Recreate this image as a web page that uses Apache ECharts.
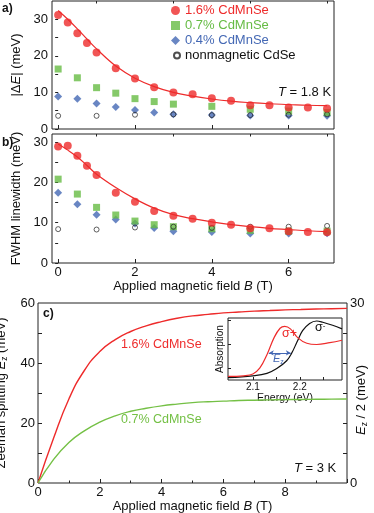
<!DOCTYPE html>
<html lang="en">
<head>
<meta charset="UTF-8">
<title>CdMnSe splitting</title>
<script src="https://cdn.jsdelivr.net/npm/echarts@6/dist/echarts.min.js"></script>
<style>
  html,body{margin:0;padding:0;background:#fff;}
  #box{width:374px;height:513px;}
</style>
</head>
<body>
<div id="box"></div>
<script>
  // field values (T)
  let fieldDense=[0,0.25,0.5,0.75,1,1.5,2,2.5,3,3.5,4,4.5,5,5.5,6,6.5,7];
  let fieldMid=[0,0.5,1,1.5,2,2.5,3,4,5,6,7];
  let fieldNon=[0,1,2,3,4,5,6,7];

  // a) |dE| (meV)
  let dERed=[31.2,29.1,26.2,23.5,20.9,16.6,13.8,11.4,10.0,9.5,8.4,7.7,6.5,6.5,5.9,5.9,5.6];
  let dEFit=[32.4,30.0,27.4,24.6,21.9,17.2,13.9,11.6,10.0,9.0,8.2,7.6,7.2,6.9,6.7,6.5,6.4];
  let dEGreen=[16.4,14.0,11.3,9.8,8.3,7.5,6.8,6.2,5.4,4.9,4.5];
  let dEBlue=[8.9,8.3,7.0,6.0,5.2,4.5,4.0,3.8,3.7,3.7,3.6];
  let dENon=[3.6,3.6,3.9,4.0,3.8,3.8,3.9,4.0];

  // b) FWHM linewidth (meV)
  let fwRed=[28.9,29.1,26.6,24.1,21.8,17.4,15.2,12.9,11.7,11.0,10.0,9.5,8.6,8.6,7.9,7.7,7.6];
  let fwFit=[29.5,28.0,26.3,24.2,22.0,18.7,15.9,13.6,12.0,11.0,10.2,9.5,9.0,8.6,8.3,8.0,7.8];
  let fwGreen=[20.8,17.1,13.8,11.9,10.4,9.5,9.0,8.5,8.1,7.9,7.9];
  let fwBlue=[17.4,14.6,12.0,10.8,9.8,8.7,7.9,7.7,7.3,7.3,7.4];
  let fwNon=[8.4,8.3,8.8,9.0,8.7,9.0,9.0,9.2];

  // c) Zeeman splitting (meV)
  let fieldZ=[0,0.5,1,1.5,2,2.5,3,3.5,4,4.5,5,5.5,6,6.5,7,7.5,8,8.5,9,9.5,10];
  let ez16=[0,14.8,28,37.5,43.8,47.8,50.5,52.4,53.8,54.9,55.7,56.2,56.7,57,57.3,57.5,57.7,57.85,58,58.1,58.2];
  let ez07=[0,7.8,13.5,17.4,20.3,22.4,23.9,24.9,25.7,26.3,26.8,27.1,27.3,27.5,27.6,27.7,27.8,27.85,27.9,27.95,28];

  // inset absorption spectra
  let energyPlus=[2.047,2.08,2.1,2.115,2.13,2.145,2.158,2.168,2.18,2.196,2.215,2.236,2.264,2.29];
  let absPlus=[0.06,0.07,0.10,0.20,0.42,0.70,0.86,0.89,0.85,0.70,0.61,0.59,0.62,0.66];
  let energyMinus=[2.047,2.1,2.13,2.151,2.172,2.183,2.194,2.206,2.221,2.236,2.249,2.27,2.29];
  let absMinus=[0.04,0.07,0.11,0.19,0.32,0.45,0.63,0.82,0.94,0.98,0.96,0.91,0.85];

  // tick labels
  let fieldLabels=[0,2,4,6];
  let fieldMinor=[1,3,5,7];
  let fieldC=[0,2,4,6,8];

  const RED='#ee2b2b', GREEN='#66bb44', BLUE='#4468b4', LGREEN='#74c045', INK='#111';
  const FONT='"Liberation Sans", Arial, Helvetica, sans-serif';
  const pairs=(xs,ys)=>xs.map((x,i)=>[x,ys[i]]);
  const txt=(size)=>({fontSize:size,fontFamily:FONT,color:INK});

  function fieldAxis(grid,ticks,len,labels,name){
    return {
      type:'value',gridIndex:grid,min:-0.16,max:7.18,
      axisLine:{show:false},splitLine:{show:false},
      axisTick:{inside:true,length:len,customValues:ticks,lineStyle:{color:'#222'}},
      axisLabel:{show:!!labels,customValues:labels||[],margin:3,...txt(13)},
      name:name||'',nameLocation:'middle',nameGap:14,nameTextStyle:{...txt(13),rich:{i:{fontStyle:'italic',...txt(13)}}}
    };
  }
  function leftAxis(grid,max,name){
    return {
      type:'value',gridIndex:grid,min:0,max:max,
      axisLine:{show:false},splitLine:{show:false},
      axisTick:{inside:false,length:3,customValues:[0,5,10,15,20,25,30],lineStyle:{color:'#222'}},
      axisLabel:{customValues:[0,10,20,30],margin:4,...txt(13)},
      name:name,nameLocation:'middle',nameRotate:90,nameGap:22,
      nameTextStyle:{...txt(13),rich:{i:{fontStyle:'italic',...txt(13)}}}
    };
  }
  function scatter(name,x,y,xi,symbol,size,style){
    return {name:name,type:'scatter',xAxisIndex:xi,yAxisIndex:xi/2,data:pairs(x,y),
      symbol:symbol,symbolSize:size,itemStyle:style,silent:true};
  }
  function fit(x,y,ai){
    return {type:'line',xAxisIndex:ai*2,yAxisIndex:ai,data:pairs(x,y),smooth:0.4,showSymbol:false,
      lineStyle:{color:RED,width:1.2},silent:true};
  }
  const redSt={color:RED}, greenSt={color:GREEN}, blueSt={color:BLUE},
        openSt={color:'rgba(255,255,255,0)',borderColor:'#222',borderWidth:0.9};

  let charts=echarts.init(document.getElementById('box'),null,{renderer:'canvas'});
  let options={
    animation:false,
    grid:[
      {left:52,top:1,width:282,height:128,show:true,borderColor:'#222',borderWidth:1,containLabel:false,outerBoundsMode:'none'},
      {left:52,top:134,width:282,height:129,show:true,borderColor:'#222',borderWidth:1,containLabel:false,outerBoundsMode:'none'},
      {left:38,top:303,width:309,height:180,show:true,borderColor:'#222',borderWidth:1,containLabel:false,outerBoundsMode:'none'},
      {left:228,top:318,width:114,height:62,show:true,borderColor:'#222',borderWidth:1,backgroundColor:'#fff',containLabel:false,outerBoundsMode:'none'}
    ],
    xAxis:[
      fieldAxis(0,fieldLabels,4,null),
      fieldAxis(0,fieldMinor,2.5,null),
      fieldAxis(1,fieldLabels,4,fieldLabels,'Applied magnetic field {i|B} (T)'),
      fieldAxis(1,fieldMinor,2.5,null),
      {type:'value',gridIndex:2,min:0,max:10,interval:2,
        axisLine:{show:false},splitLine:{show:false},
        axisTick:{inside:true,length:4,lineStyle:{color:'#222'}},
        minorTick:{show:true,splitNumber:2,length:2.5,lineStyle:{color:'#222'}},
        axisLabel:{customValues:fieldC,margin:3,...txt(13)},
        name:'Applied magnetic field {i|B} (T)',nameLocation:'middle',nameGap:15,
        nameTextStyle:{...txt(13),rich:{i:{fontStyle:'italic',...txt(13)}}}},
      {type:'value',gridIndex:3,min:2.047,max:2.29,
        axisLine:{show:false},splitLine:{show:false},
        axisTick:{inside:true,length:3,customValues:[2.1,2.15,2.2,2.25],lineStyle:{color:'#222'}},
        axisLabel:{customValues:[2.1,2.2],margin:2,...txt(10)},
        name:'Energy (eV)',nameLocation:'middle',nameGap:9,nameTextStyle:txt(10.5)}
    ],
    yAxis:[
      leftAxis(0,35,'|Δ{i|E}| (meV)'),
      leftAxis(1,32,'FWHM linewidth (meV)'),
      {type:'value',gridIndex:2,min:0,max:60,
        axisLine:{show:false},splitLine:{show:false},
        axisTick:{inside:true,length:4,customValues:[10,20,30,40,50],lineStyle:{color:'#222'}},
        axisLabel:{customValues:[0,20,40,60],margin:3,...txt(13)},
        name:'Zeeman splitting {i|E}{s|z} (meV)',nameLocation:'middle',nameRotate:90,nameGap:21,
        nameTextStyle:{...txt(13),lineHeight:16,rich:{i:{fontStyle:'italic',...txt(13),lineHeight:16},s:{...txt(8.5),lineHeight:8,verticalAlign:'bottom'}}}},
      {type:'value',gridIndex:2,min:0,max:30,position:'right',
        axisLine:{show:false},splitLine:{show:false},
        axisTick:{inside:true,length:4,customValues:[5,10,15,20,25],lineStyle:{color:'#222'}},
        axisLabel:{customValues:[0,30],margin:3,...txt(13)}},
      {type:'value',gridIndex:3,min:0,max:1.03,
        axisLine:{show:false},splitLine:{show:false},
        axisTick:{inside:true,length:3,customValues:[0.2,0.6,1.0],lineStyle:{color:'#222'}},
        axisLabel:{show:false},
        name:'Absorption',nameLocation:'middle',nameRotate:90,nameGap:3,nameTextStyle:txt(10)}
    ],
    legend:[
      {left:171,top:4,padding:0,orient:'vertical',itemWidth:9,itemHeight:9,itemGap:2,itemTextGap:3,selectedMode:false,
        textStyle:{fontSize:13,fontFamily:FONT},
        data:[{name:'1.6% CdMnSe',textStyle:{color:RED}},{name:'0.7% CdMnSe',textStyle:{color:GREEN}},{name:'0.4% CdMnSe',textStyle:{color:BLUE}}]},
      {left:173,top:49,padding:0,orient:'vertical',itemWidth:6,itemHeight:6,itemTextGap:6,selectedMode:false,
        textStyle:{fontSize:13,fontFamily:FONT,color:INK},
        data:[{name:'nonmagnetic CdSe'}]}
    ],
    series:[
      fit(fieldDense,dEFit,0),
      scatter('0.4% CdMnSe',fieldMid,dEBlue,0,'diamond',8,blueSt),
      scatter('0.7% CdMnSe',fieldMid,dEGreen,0,'rect',7,greenSt),
      scatter('nonmagnetic CdSe',fieldNon,dENon,0,'circle',5,openSt),
      scatter('1.6% CdMnSe',fieldDense,dERed,0,'circle',8,redSt),

      fit(fieldDense,fwFit,1),
      scatter('0.4% CdMnSe',fieldMid,fwBlue,2,'diamond',8,blueSt),
      scatter('0.7% CdMnSe',fieldMid,fwGreen,2,'rect',7,greenSt),
      scatter('nonmagnetic CdSe',fieldNon,fwNon,2,'circle',5,openSt),
      scatter('1.6% CdMnSe',fieldDense,fwRed,2,'circle',8,redSt),

      {type:'line',xAxisIndex:4,yAxisIndex:2,data:pairs(fieldZ,ez16),smooth:true,showSymbol:false,
        lineStyle:{color:RED,width:1.4},silent:true},
      {type:'line',xAxisIndex:4,yAxisIndex:2,data:pairs(fieldZ,ez07),smooth:true,showSymbol:false,
        lineStyle:{color:LGREEN,width:1.4},silent:true},

      {type:'line',xAxisIndex:5,yAxisIndex:4,data:pairs(energyMinus,absMinus),smooth:0.4,showSymbol:false,
        lineStyle:{color:'#111',width:1.2},silent:true},
      {type:'line',xAxisIndex:5,yAxisIndex:4,data:pairs(energyPlus,absPlus),smooth:0.4,showSymbol:false,
        lineStyle:{color:RED,width:1.2},silent:true,
        markLine:{silent:true,symbol:['arrow','arrow'],symbolSize:[4,5],label:{show:false},
          lineStyle:{color:BLUE,width:1,type:'solid'},
          data:[[{coord:[2.134,0.45]},{coord:[2.181,0.45]}]]}}
    ],
    graphic:[
      {type:'text',x:2,y:3,style:{text:'a)',fontSize:12,fontWeight:'bold',fontFamily:FONT,fill:INK}},
      {type:'text',x:2,y:137,style:{text:'b)',fontSize:12,fontWeight:'bold',fontFamily:FONT,fill:INK}},
      {type:'text',x:43,y:308,style:{text:'c)',fontSize:12,fontWeight:'bold',fontFamily:FONT,fill:INK}},
      {type:'text',x:278,y:92,style:{text:'{i|T} = 1.8 K',verticalAlign:'middle',fontSize:13,fontFamily:FONT,fill:INK,
        rich:{i:{fontStyle:'italic',fontSize:13,fontFamily:FONT,fill:INK}}}},
      {type:'text',x:121,y:345,style:{text:'1.6% CdMnSe',verticalAlign:'middle',fontSize:12.5,fontFamily:FONT,fill:RED}},
      {type:'text',x:121,y:420,style:{text:'0.7% CdMnSe',verticalAlign:'middle',fontSize:12.5,fontFamily:FONT,fill:LGREEN}},
      {type:'text',x:294,y:468,style:{text:'{i|T} = 3 K',verticalAlign:'middle',fontSize:13,fontFamily:FONT,fill:INK,
        rich:{i:{fontStyle:'italic',fontSize:13,fontFamily:FONT,fill:INK}}}},
      {type:'text',x:361,y:400,rotation:Math.PI/2,style:{text:'{i|E}{s|z} / 2 (meV)',align:'center',verticalAlign:'middle',fontSize:13,fontFamily:FONT,fill:INK,lineHeight:16,
        rich:{i:{fontStyle:'italic',fontSize:13,fontFamily:FONT,fill:INK,lineHeight:16},s:{fontSize:8.5,fontFamily:FONT,fill:INK,lineHeight:8,verticalAlign:'bottom'}}}},
      {type:'text',x:282,y:334,z:100,style:{text:'σ+',verticalAlign:'middle',fontSize:12.5,fontFamily:FONT,fill:RED}},
      {type:'text',x:315,y:328,z:100,style:{text:'σ{s|-}',verticalAlign:'middle',fontSize:12.5,fontFamily:FONT,fill:INK,
        rich:{s:{fontSize:8,fontFamily:FONT,fill:INK,verticalAlign:'top',lineHeight:8}}}},
      {type:'text',x:273,y:359,z:100,style:{text:'{i|E}{s|z}',verticalAlign:'middle',fontSize:11,fontFamily:FONT,fill:BLUE,
        rich:{i:{fontStyle:'italic',fontSize:11,fontFamily:FONT,fill:BLUE,lineHeight:13},s:{fontSize:7,fontFamily:FONT,fill:BLUE,verticalAlign:'bottom',lineHeight:6}}}}
    ]
  };
  charts.setOption(options);
</script>
</body>
</html>
